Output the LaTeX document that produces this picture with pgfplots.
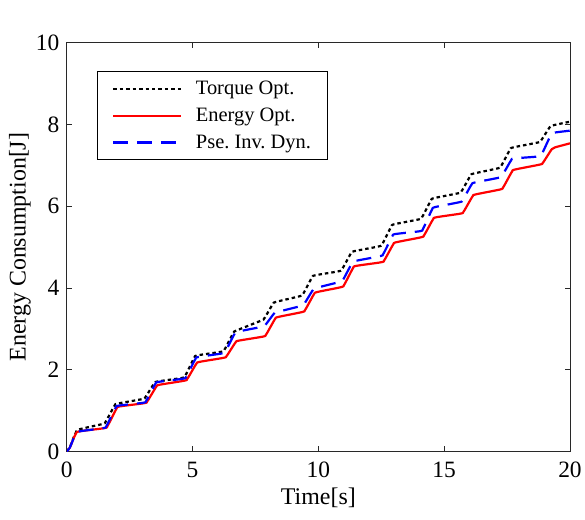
\documentclass[border=0pt]{standalone}
\usepackage{pgfplots}
\pgfplotsset{compat=1.18}
\usepackage{fontspec}
\setmainfont{Liberation Serif}
\definecolor{axgray}{RGB}{40,40,40}
\begin{document}
\frenchspacing
\begin{tikzpicture}
\begin{axis}[
  scale only axis,
  width=505pt, height=410pt,
  xmin=0, xmax=20, ymin=0, ymax=10,
  xtick={0,5,10,15,20}, ytick={0,2,4,6,8,10},
  tick align=inside,
  major tick length=5pt,
  axis line style={axgray, line width=0.9pt},
  every tick/.style={axgray, line width=0.9pt},
  /pgf/number format/assume math mode=true,
  tick label style={font=\fontsize{23.5}{27}\selectfont},
  xticklabel style={yshift=-7pt},
  yticklabel style={xshift=-4pt},
  xlabel={Time[s]},
  ylabel={Energy Consumption[J]},
  label style={font=\fontsize{24}{28}\selectfont},
  xlabel style={at={([yshift=-47pt]rel axis cs:0.5,0)}, anchor=center},
  ylabel style={at={([xshift=-47pt]rel axis cs:0,0.5)}, anchor=center},
  legend style={at={(axis description cs:0.0594,0.9317)}, anchor=north west,
    draw=black, line width=0.9pt, font=\fontsize{20.5}{24}\selectfont,
    inner xsep=15pt, inner ysep=8pt, row sep=8pt,
    nodes={inner sep=2pt}},
  legend cell align=left,
  legend image code/.code={\draw[#1] (0pt,0pt) -- (68pt,0pt); \path (80pt,0pt);},
]
\addplot[black, line width=2.2pt, dash pattern=on 3.5pt off 3pt, smooth, tension=0.45] coordinates {
(0,0)(0.12,0.1)(0.24,0.29)(0.36,0.46)(0.5,0.54)
(1.42,0.67)(1.54,0.72)(1.72,0.92)(1.9,1.12)(2.02,1.17)
(3.0,1.28)(3.12,1.323)(3.3,1.495)(3.48,1.667)(3.6,1.71)
(4.59,1.80)(4.71,1.855)(4.89,2.075)(5.07,2.295)(5.19,2.35)
(6.15,2.44)(6.27,2.492)(6.45,2.70)(6.63,2.908)(6.75,2.96)
(7.72,3.20)(7.84,3.246)(8.02,3.43)(8.2,3.614)(8.32,3.66)
(9.27,3.80)(9.39,3.851)(9.57,4.055)(9.75,4.259)(9.87,4.31)
(10.82,4.41)(10.94,4.459)(11.12,4.655)(11.3,4.851)(11.42,4.90)
(12.42,5.02)(12.54,5.074)(12.72,5.29)(12.9,5.506)(13.02,5.56)
(14.0,5.68)(14.12,5.732)(14.3,5.94)(14.48,6.148)(14.6,6.20)
(15.57,6.32)(15.69,6.368)(15.87,6.56)(16.05,6.752)(16.17,6.80)
(17.14,6.93)(17.26,6.981)(17.44,7.185)(17.62,7.389)(17.74,7.44)
(18.72,7.56)(18.84,7.602)(19.02,7.77)(19.2,7.938)(19.32,7.98)
(20,8.07)
};
\addlegendentry{Torque Opt.}
\addplot[red, line width=2.2pt, smooth, tension=0.45] coordinates {
(0,0)(0.12,0.09)(0.24,0.27)(0.36,0.43)(0.5,0.49)
(1.5,0.57)(1.62,0.623)(1.8,0.835)(1.98,1.047)(2.1,1.10)
(3.08,1.18)(3.2,1.225)(3.38,1.405)(3.56,1.585)(3.68,1.63)
(4.67,1.73)(4.79,1.776)(4.97,1.96)(5.15,2.144)(5.27,2.19)
(6.23,2.29)(6.35,2.332)(6.53,2.5)(6.71,2.668)(6.83,2.71)
(7.8,2.81)(7.92,2.858)(8.1,3.05)(8.28,3.242)(8.4,3.29)
(9.35,3.41)(9.47,3.459)(9.65,3.655)(9.83,3.851)(9.95,3.90)
(10.9,4.02)(11.02,4.072)(11.2,4.28)(11.38,4.488)(11.5,4.54)
(12.5,4.63)(12.62,4.679)(12.8,4.875)(12.98,5.071)(13.1,5.12)
(14.08,5.24)(14.2,5.289)(14.38,5.485)(14.56,5.681)(14.68,5.73)
(15.65,5.82)(15.77,5.867)(15.95,6.055)(16.13,6.243)(16.25,6.29)
(17.22,6.41)(17.34,6.459)(17.52,6.655)(17.7,6.851)(17.82,6.90)
(18.8,7.02)(18.92,7.062)(19.1,7.23)(19.28,7.398)(19.4,7.44)
(20,7.54)
};
\addlegendentry{Energy Opt.}
\addplot[blue, line width=2.2pt, dash pattern=on 15pt off 9pt, smooth, tension=0.45] coordinates {
(0,0)(0.12,0.09)(0.24,0.27)(0.36,0.43)(0.5,0.49)
(1.46,0.57)(1.58,0.625)(1.76,0.845)(1.94,1.065)(2.06,1.12)
(3.04,1.19)(3.16,1.241)(3.34,1.445)(3.52,1.649)(3.64,1.70)
(4.63,1.78)(4.75,1.833)(4.93,2.045)(5.11,2.257)(5.23,2.31)
(6.19,2.40)(6.31,2.453)(6.49,2.665)(6.67,2.877)(6.79,2.93)
(7.76,3.05)(7.88,3.086)(8.06,3.23)(8.24,3.374)(8.36,3.41)
(9.31,3.56)(9.43,3.604)(9.61,3.78)(9.79,3.956)(9.91,4.00)
(10.86,4.15)(10.98,4.201)(11.16,4.405)(11.34,4.609)(11.46,4.66)
(12.46,4.78)(12.58,4.834)(12.76,5.05)(12.94,5.266)(13.06,5.32)
(14.04,5.39)(14.16,5.449)(14.34,5.685)(14.52,5.921)(14.64,5.98)
(15.61,6.10)(15.73,6.148)(15.91,6.34)(16.09,6.532)(16.21,6.58)
(17.18,6.70)(17.3,6.747)(17.48,6.935)(17.66,7.123)(17.78,7.17)
(18.76,7.22)(18.88,7.278)(19.06,7.51)(19.24,7.742)(19.36,7.80)
(20,7.85)
};
\addlegendentry{Pse. Inv. Dyn.\hspace{34pt}}
\node[anchor=base west, font=\fontsize{18}{20}\selectfont, inner sep=0pt] at (rel axis cs:0,1) [yshift=16pt, xshift=-1pt] {$\times$10\textsuperscript{3}};
\end{axis}
\path (-67pt,-68pt) rectangle (518pt,453pt);
\end{tikzpicture}
\end{document}
